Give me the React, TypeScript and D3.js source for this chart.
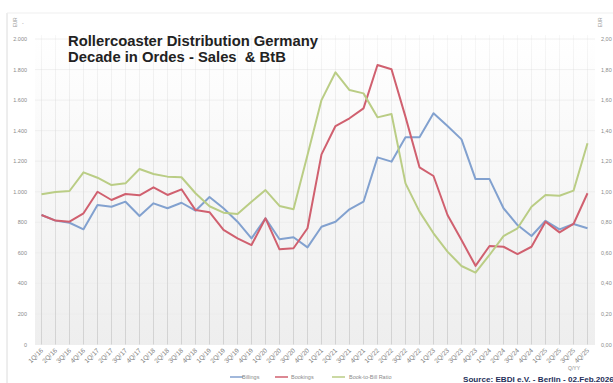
import React from "react";
import * as d3 from "d3";

const categories = [
  "1Q/16","2Q/16","3Q/16","4Q/16","1Q/17","2Q/17","3Q/17","4Q/17",
  "1Q/18","2Q/18","3Q/18","4Q/18","1Q/19","2Q/19","3Q/19","4Q/19",
  "1Q/20","2Q/20","3Q/20","4Q/20","1Q/21","2Q/21","3Q/21","4Q/21",
  "1Q/22","2Q/22","3Q/22","4Q/22","1Q/23","2Q/23","3Q/23","4Q/23",
  "1Q/24","2Q/24","3Q/24","4Q/24","1Q/25","2Q/25","3Q/25","4Q/25",
];

const billings = [
  848, 811, 797, 754, 913, 902, 935, 841, 924, 892, 928, 876,
  966, 892, 804, 695, 826, 689, 702, 636, 771, 804, 885, 935,
  1225, 1197, 1356, 1356, 1514, 1430, 1343, 1083, 1083, 892, 782, 710,
  810, 754, 789, 761,
];

const bookings = [
  848, 811, 804, 859, 1000, 946, 985, 977, 1029, 979, 1016, 880,
  866, 750, 695, 651, 826, 623, 630, 761, 1245, 1430, 1481, 1546,
  1830, 1802, 1490, 1160, 1103, 848, 684, 515, 645, 640, 592, 640,
  804, 734, 789, 990,
];

const bookToBill = [
  0.983, 0.998, 1.005, 1.127, 1.092, 1.044, 1.055, 1.149, 1.116, 1.099, 1.095, 0.99,
  0.905, 0.863, 0.854, 0.935, 1.011, 0.907, 0.885, 1.24, 1.6, 1.782, 1.666, 1.644,
  1.487, 1.509, 1.055, 0.87, 0.728, 0.608, 0.514, 0.47, 0.586, 0.71, 0.761, 0.902,
  0.979, 0.974, 1.007, 1.317,
];

const leftTicks = [0, 200, 400, 600, 800, 1000, 1200, 1400, 1600, 1800, 2000];
const rightTicks = [0, 0.2, 0.4, 0.6, 0.8, 1.0, 1.2, 1.4, 1.6, 1.8, 2.0];

const seriesNames = ["Billings", "Bookings", "Book-to-Bill Ratio"];
const seriesColors = ["#82a1cf", "#d0606f", "#bacd85"];

const titleLines = ["Rollercoaster Distribution Germany", "Decade in Ordes - Sales  & BtB"];
const sourceText = "Source: EBDI e.V. - Berlin - 02.Feb.2026";

const fmtLeft = (v: number) => (v >= 1000 ? `${Math.floor(v / 1000)}.${String(v % 1000).padStart(3, "0")}` : `${v}`);
const fmtRight = (v: number) => v.toFixed(2).replace(".", ",");

export default function App() {
  const W = 613, H = 383;
  const plotL = 35, plotR = 595, plotT = 35, plotB = 344.5;
  const x = d3.scalePoint<string>().domain(categories).range([41.5, 587.5]);
  const y = d3.scaleLinear().domain([0, 2000]).range([plotB, 39]);
  const yR = d3.scaleLinear().domain([0, 2]).range([plotB, 39]);

  const lineL = d3.line<number>().x((_, i) => x(categories[i]) as number).y((d) => y(d));
  const lineR = d3.line<number>().x((_, i) => x(categories[i]) as number).y((d) => yR(d));

  const font = "Liberation Sans, Arial, sans-serif";

  return (
    <svg width={W} height={H} style={{ position: "absolute", left: 0, top: 0, background: "#fff" }} fontFamily={font}>
      <defs>
        <linearGradient id="bg" x1="0" y1="0" x2="0" y2="1">
          <stop offset="0" stopColor="#ffffff" />
          <stop offset="1" stopColor="#eeeeee" />
        </linearGradient>
        <linearGradient id="vg" gradientUnits="userSpaceOnUse" x1="0" y1={plotT} x2="0" y2={plotB}>
          <stop offset="0" stopColor="#d6d6d6" stopOpacity="0.2" />
          <stop offset="1" stopColor="#d2d2d2" stopOpacity="1" />
        </linearGradient>
      </defs>

      {/* frame */}
      <line x1={7} y1={13} x2={7} y2={H} stroke="#dcdcdc" strokeWidth={1} />
      <line x1={7} y1={13} x2={W} y2={13} stroke="#efefef" strokeWidth={1} />

      {/* plot background */}
      <rect x={plotL} y={plotT} width={plotR - plotL} height={plotB - plotT} fill="url(#bg)" />

      {/* horizontal gridlines */}
      {leftTicks.map((t) => (
        <line key={`h${t}`} x1={plotL} x2={plotR} y1={y(t)} y2={y(t)} stroke="#ececec" strokeWidth={0.8} />
      ))}
      {/* vertical gridlines */}
      {categories.map((c) => (
        <line key={`v${c}`} x1={x(c)} x2={x(c)} y1={plotT} y2={plotB} stroke="url(#vg)" strokeWidth={1} />
      ))}

      {/* left axis */}
      {leftTicks.map((t) => (
        <text key={`l${t}`} x={27} y={y(t) + 2} fontSize={5.5} fill="#8a8a8a" textAnchor="end">
          {fmtLeft(t)}
        </text>
      ))}
      {/* right axis */}
      {rightTicks.map((t) => (
        <text key={`r${t}`} x={601} y={yR(t) + 2} fontSize={5.5} fill="#8a8a8a" textAnchor="start">
          {fmtRight(t)}
        </text>
      ))}
      {/* unit markers */}
      <text x={0} y={0} fontSize={4.5} fill="#999" transform="translate(16.5,27) rotate(-90)">EUR</text>
      <text x={22} y={24.5} fontSize={5} fill="#999">-</text>
      <text x={0} y={0} fontSize={4.5} fill="#999" transform="translate(601.5,27) rotate(-90)">EUR</text>

      {/* x labels */}
      {categories.map((c) => (
        <text
          key={`x${c}`}
          fontSize={6.5}
          fill="#808080"
          textAnchor="end"
          transform={`translate(${(x(c) as number) + 2},${351}) rotate(-45)`}
        >
          {c}
        </text>
      ))}
      <text x={574} y={370} fontSize={5} fill="#8a8a8a" textAnchor="middle">Q/YY</text>

      {/* series */}
      <path d={lineL(billings) || ""} fill="none" stroke={seriesColors[0]} strokeWidth={2} strokeLinejoin="round" />
      <path d={lineL(bookings) || ""} fill="none" stroke={seriesColors[1]} strokeWidth={2} strokeLinejoin="round" />
      <path d={lineR(bookToBill) || ""} fill="none" stroke={seriesColors[2]} strokeWidth={2} strokeLinejoin="round" />

      {/* title */}
      <text x={68} y={46} fontSize={14.8} fontWeight="bold" fill="#222" style={{ whiteSpace: "pre" }}>{titleLines[0]}</text>
      <text x={68} y={61.5} fontSize={14.8} fontWeight="bold" fill="#222" style={{ whiteSpace: "pre" }}>{titleLines[1]}</text>

      {/* legend */}
      {[
        { lx: 230, tx: 242 },
        { lx: 275, tx: 291 },
        { lx: 332, tx: 349 },
      ].map((p, i) => (
        <g key={`lg${i}`}>
          <line x1={p.lx} x2={p.lx + 13} y1={377} y2={377} stroke={seriesColors[i]} strokeWidth={1.5} />
          <text x={p.tx} y={379} fontSize={5.5} fill="#8a8a8a">{seriesNames[i]}</text>
        </g>
      ))}

      {/* source */}
      <text x={463} y={382} fontSize={8.1} fontWeight="bold" fill="#1f2f5a">{sourceText}</text>
    </svg>
  );
}
